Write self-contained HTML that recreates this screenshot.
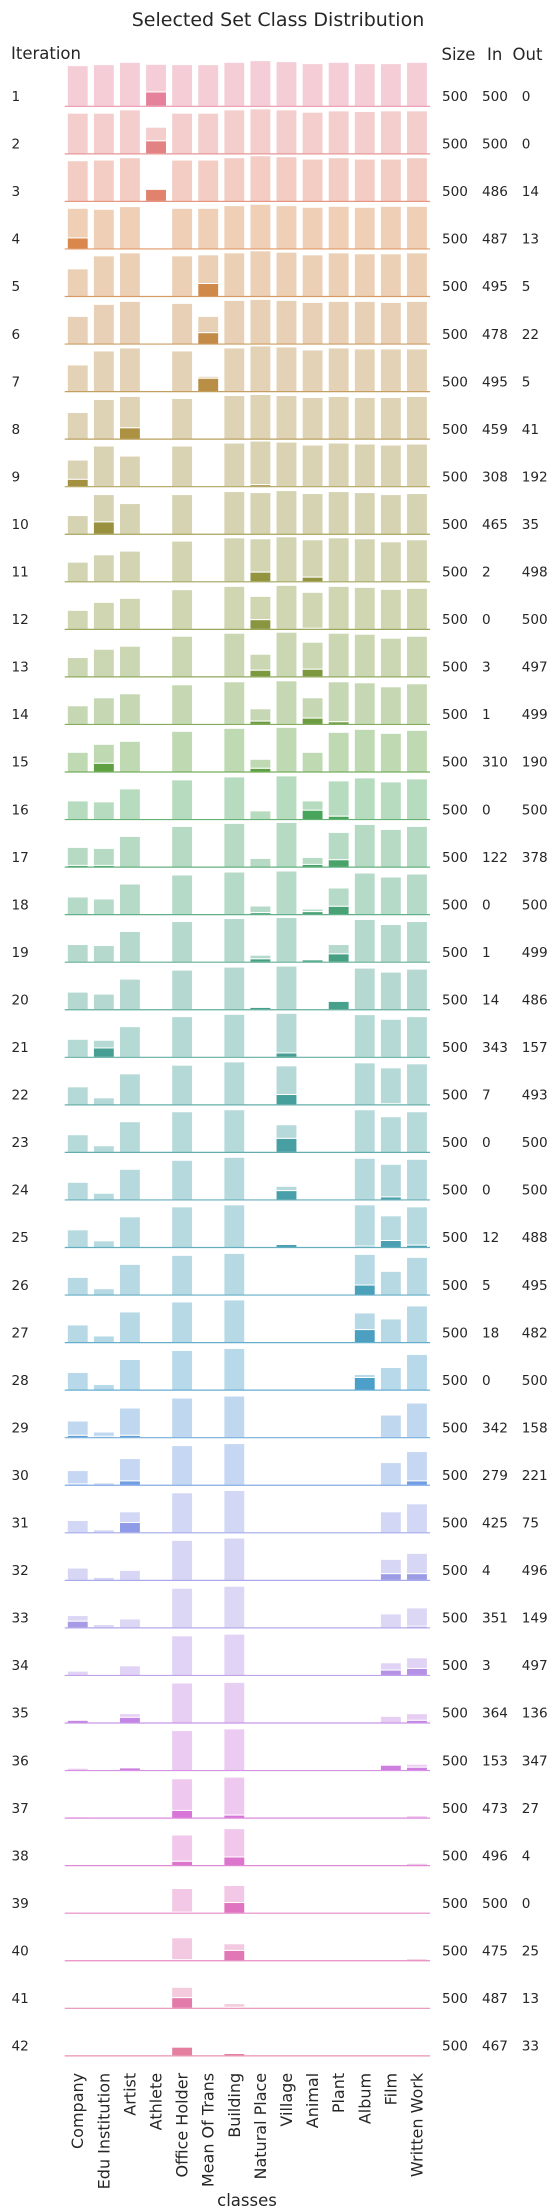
<!DOCTYPE html>
<html><head><meta charset="utf-8"><style>
html,body{margin:0;padding:0;background:#fff}
svg{display:block;font-family:"DejaVu Sans","Liberation Sans",sans-serif}
</style></head><body>
<svg id="chart" width="557" height="2208" viewBox="0 0 557 2208" xmlns="http://www.w3.org/2000/svg">
<text x="278" y="26" text-anchor="middle" font-size="19" fill="#262626">Selected Set Class Distribution</text>
<text x="11" y="59" font-size="16.5" fill="#262626">Iteration</text>
<text x="441.5" y="60" font-size="16.5" fill="#262626">Size</text>
<text x="487" y="60" font-size="16.5" fill="#262626">In</text>
<text x="512.5" y="60" font-size="16.5" fill="#262626">Out</text>
<text x="247" y="2206" text-anchor="middle" font-size="16.5" fill="#262626">classes</text>
<g id="rows"></g>
<g id="xticks"></g>
</svg>
<script>
const classes = ["Company","Edu Institution","Artist","Athlete","Office Holder","Mean Of Trans","Building","Natural Place","Village","Animal","Plant","Album","Film","Written Work"];
const sizes = [500,500,500,500,500,500,500,500,500,500,500,500,500,500,500,500,500,500,500,500,500,500,500,500,500,500,500,500,500,500,500,500,500,500,500,500,500,500,500,500,500,500];
const inCounts = [500,500,486,487,495,478,495,459,308,465,2,0,3,1,310,0,122,0,1,14,343,7,0,0,12,5,18,0,342,279,425,4,351,3,364,153,473,496,500,475,487,467];
const outCounts = [0,0,14,13,5,22,5,41,192,35,498,500,497,499,190,500,378,500,499,486,157,493,500,500,488,495,482,500,158,221,75,496,149,497,136,347,27,4,0,25,13,33];
const totals = [
[122,125,132,126,125,125,132,137,134,128,132,128,128,132],
[122,122,132,80,122,122,132,135,132,125,129,127,129,129],
[122,124,131,36,124,124,131,137,134,127,131,127,127,131],
[122,119,127,0,122,122,130,134,130,125,128,125,128,128],
[83,122,131,2,122,125,131,137,133,125,131,128,128,131],
[83,119,128,0,122,83,131,134,131,125,128,128,125,128],
[80,122,131,0,122,46,131,137,134,125,131,128,128,128],
[80,119,128,0,122,2,131,134,131,125,128,125,125,128],
[80,122,92,0,122,0,131,137,134,125,131,128,125,128],
[56,119,92,0,119,0,128,125,131,122,128,125,119,122],
[59,81,92,0,122,2,132,129,135,126,132,129,120,126],
[57,81,93,0,119,0,129,99,132,111,129,126,120,123],
[58,83,92,0,122,2,131,68,134,104,131,128,116,122],
[56,80,92,0,119,0,128,47,131,80,128,125,113,122],
[59,83,92,0,122,3,131,38,134,59,119,128,116,125],
[56,53,92,0,119,0,128,26,131,56,116,125,113,122],
[59,56,92,0,122,3,131,26,134,29,104,128,113,122],
[53,47,92,0,119,0,128,26,131,17,80,125,113,122],
[53,50,92,3,122,3,131,21,134,7,53,128,113,122],
[53,47,92,0,119,0,128,10,131,0,25,125,113,122],
[54,51,92,2,122,2,129,2,132,0,0,128,114,122],
[54,21,93,0,119,0,129,3,117,0,0,126,111,123],
[53,20,92,2,122,2,128,0,83,2,0,128,107,122],
[53,20,92,0,119,0,128,0,41,0,0,125,107,122],
[53,20,92,3,122,3,128,0,9,3,3,128,95,122],
[53,19,92,0,119,0,125,0,3,0,0,122,71,113],
[53,20,92,0,122,0,128,0,3,0,0,89,71,110],
[53,17,92,0,119,0,125,0,3,0,0,47,68,107],
[50,17,89,0,119,0,125,0,0,0,0,3,68,104],
[44,7,80,0,119,0,125,0,2,0,0,0,68,101],
[37,9,63,0,120,0,127,0,0,0,0,0,63,87],
[37,9,30,0,120,0,127,3,0,0,0,0,63,81],
[37,10,27,0,119,0,125,0,0,0,0,0,42,60],
[13,3,29,0,119,0,124,0,0,0,0,0,38,53],
[11,3,28,0,120,0,122,0,0,0,0,0,20,28],
[7,3,8,0,120,0,125,0,0,0,0,0,16,19],
[4,0,0,0,118,0,123,0,0,0,0,0,0,7],
[3,0,0,0,92,0,111,0,0,0,0,0,0,7],
[0,0,0,0,74,0,83,0,0,0,0,0,0,2],
[0,0,0,0,69,0,51,0,0,0,0,0,0,6],
[0,0,0,0,63,0,14,0,0,0,0,0,0,0],
[0,0,0,0,26,0,7,0,0,0,0,0,0,0]
];
const selected = [
[0,0,0,43,0,0,0,0,0,0,0,0,0,0],
[0,0,0,39,0,0,0,0,0,0,0,0,0,0],
[0,0,0,36,0,0,0,0,0,0,0,0,0,0],
[33,0,0,0,0,0,0,0,0,0,0,0,0,0],
[0,0,0,0,0,39,0,0,0,0,0,0,0,0],
[0,0,0,0,0,34,0,0,0,0,0,0,0,0],
[0,0,0,0,0,40,0,0,0,0,0,0,0,0],
[0,0,34,0,0,0,0,0,0,0,0,0,0,0],
[22,0,0,0,0,0,0,6,0,0,0,0,0,0],
[0,37,0,0,0,0,0,0,0,0,0,0,0,0],
[0,0,0,0,0,0,0,29,0,14,0,0,0,0],
[0,0,0,0,0,0,0,29,0,3,0,0,0,0],
[0,0,0,0,0,0,0,20,0,23,0,0,0,0],
[0,0,0,0,0,0,0,10,0,19,8,0,0,0],
[0,26,0,0,0,0,0,11,0,0,0,0,0,0],
[0,0,0,0,0,0,0,0,0,28,10,0,0,0],
[5,5,0,0,0,0,0,0,0,8,22,0,0,0],
[0,0,0,0,0,0,0,6,0,9,25,0,0,0],
[0,0,0,0,0,0,0,10,0,7,25,0,0,0],
[0,0,0,0,0,0,0,7,0,0,25,0,0,0],
[0,28,0,0,0,0,0,0,13,0,0,0,0,0],
[0,0,0,0,0,0,0,0,31,0,0,0,3,0],
[0,0,0,0,0,0,0,0,42,0,0,0,0,0],
[0,0,0,0,0,0,0,0,28,0,0,0,9,0],
[0,0,0,0,0,0,0,0,9,0,0,4,21,7],
[0,0,0,0,0,0,0,0,0,0,0,30,0,0],
[0,0,0,0,0,0,0,0,0,0,0,39,0,0],
[0,0,0,0,0,0,0,0,0,0,0,38,0,0],
[7,4,7,0,0,0,0,0,0,0,0,3,0,0],
[4,0,13,0,0,0,0,0,0,0,0,0,0,13],
[0,0,31,0,0,0,0,0,0,0,0,0,0,0],
[0,0,0,0,0,0,0,0,0,0,0,0,20,20],
[20,0,0,0,0,0,0,0,0,0,0,0,0,5],
[0,0,0,0,0,0,0,0,0,0,0,0,16,21],
[8,0,17,0,0,0,0,0,0,0,0,0,0,8],
[0,0,8,0,0,0,0,0,0,0,0,0,16,10],
[0,0,0,0,23,0,9,0,0,0,0,0,0,0],
[0,0,0,0,13,0,26,0,0,0,0,0,0,0],
[0,0,0,0,3,0,32,0,0,0,0,0,0,0],
[0,0,0,0,3,0,31,0,0,0,0,0,0,0],
[0,0,0,0,32,0,3,0,0,0,0,0,0,0],
[0,0,0,0,26,0,7,0,0,0,0,0,0,0]
];

const NS = "http://www.w3.org/2000/svg";
const axLeft = 64.7, axRight = 430, row0 = 106.3, rowPitch = 47.55;
const colW = (axRight - axLeft) / classes.length;
function xScale(i){ return axLeft + colW * i; }
function yScale(v){ return v / 3; }
function rowBase(r){ return row0 + r * rowPitch; }

const keys = [[0,"#e5819a"],[2,"#e0826c"],[3,"#d9874b"],[5,"#c48a47"],[7,"#ad9143"],[9,"#99913f"],[11,"#8a963f"],[14,"#5fa042"],[15,"#4aa55c"],[18,"#47a083"],[21,"#479f9b"],[24,"#4aa0b2"],[27,"#4c9fc9"],[29,"#6f9ce2"],[30,"#8f9be6"],[32,"#a79be6"],[34,"#c286e4"],[36,"#d875d8"],[38,"#e074c0"],[41,"#e47f9f"]];
function hex2rgb(h){ return [1,3,5].map(i=>parseInt(h.substr(i,2),16)); }
function rowColor(r){
  for(let k=0;k<keys.length-1;k++){
    if(r>=keys[k][0] && r<=keys[k+1][0]){
      const t=(r-keys[k][0])/(keys[k+1][0]-keys[k][0]);
      const a=hex2rgb(keys[k][1]), b=hex2rgb(keys[k+1][1]);
      return a.map((v,i)=>Math.round(v+(b[i]-v)*t));
    }
  }
  return hex2rgb(keys[keys.length-1][1]);
}
function rgb(c){ return "rgb("+c.join(",")+")"; }
function mix(c,a){ return c.map(v=>Math.round(255-(255-v)*a)); }

const rowsG = document.getElementById("rows");
for(let r=0;r<totals.length;r++){
  const g=document.createElementNS(NS,"g");
  
  
  rowsG.appendChild(g);
  const base=rowBase(r);
  const dark=rowColor(r), light=mix(dark,0.4), line=mix(dark,0.85);
  for(let c=0;c<classes.length;c++){
    const tot=totals[r][c], sel=selected[r][c];
    const x=xScale(c)+colW*0.1, w=colW*0.8;
    if(tot>sel){
      const rect=document.createElementNS(NS,"rect");
      
      
      rect.setAttribute("x",x); rect.setAttribute("width",w);
      rect.setAttribute("y",base-yScale(tot)); rect.setAttribute("height",yScale(tot-sel));
      rect.setAttribute("fill",rgb(light)); rect.setAttribute("stroke","#fff"); rect.setAttribute("stroke-width","1");
      g.appendChild(rect);
    }
    if(sel>0){
      const rect=document.createElementNS(NS,"rect");
      
      
      rect.setAttribute("x",x); rect.setAttribute("width",w);
      rect.setAttribute("y",base-yScale(sel)); rect.setAttribute("height",yScale(sel));
      rect.setAttribute("fill",rgb(dark)); rect.setAttribute("stroke","#fff"); rect.setAttribute("stroke-width","1");
      g.appendChild(rect);
    }
  }
  const ln=document.createElementNS(NS,"line");
  
  
  ln.setAttribute("x1",axLeft); ln.setAttribute("x2",axRight);
  ln.setAttribute("y1",base); ln.setAttribute("y2",base);
  ln.setAttribute("stroke",rgb(line)); ln.setAttribute("stroke-width","1.2");
  g.appendChild(ln);
  const labels=[[11.5,String(r+1),'row-label'],[442,String(sizes[r]),'size-value'],[482,String(inCounts[r]),'in-value'],[521.7,String(outCounts[r]),'out-value']];
  for(const [lx,txt,nm] of labels){
    const t=document.createElementNS(NS,"text");
    
    
    t.setAttribute("x",lx); t.setAttribute("y",base-5.3);
    t.setAttribute("font-size","13.6"); t.setAttribute("fill","#262626");
    t.textContent=txt;
    g.appendChild(t);
  }
}
const xt=document.getElementById("xticks");
const lastBase=rowBase(totals.length-1);
for(let c=0;c<classes.length;c++){
  const t=document.createElementNS(NS,"text");
  
  
  const cx=xScale(c)+colW/2+5.5, cy=lastBase+17;
  t.setAttribute("x",cx); t.setAttribute("y",cy);
  t.setAttribute("transform","rotate(-90 "+cx+" "+cy+")");
  t.setAttribute("text-anchor","end");
  t.setAttribute("font-size","16");
  t.setAttribute("fill","#262626");
  t.textContent=classes[c];
  xt.appendChild(t);
}
</script>
</body></html>
